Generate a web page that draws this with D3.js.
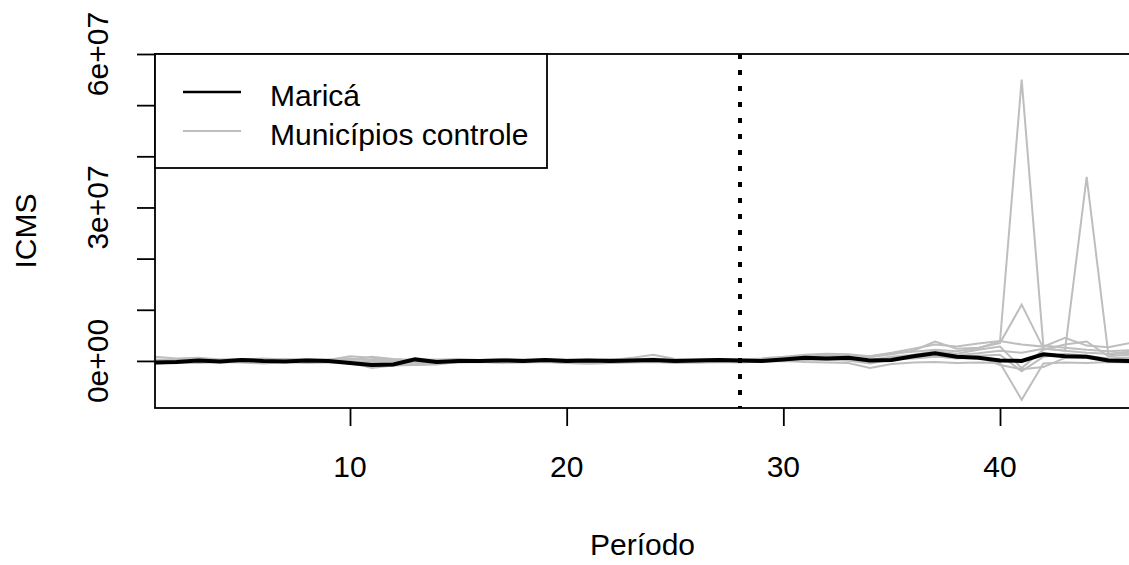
<!DOCTYPE html>
<html>
<head>
<meta charset="utf-8">
<script src="https://cdn.jsdelivr.net/npm/d3@7"></script>
<style>
  body { margin: 0; background: #fff; }
  text { font-family: "Liberation Sans", Arial, sans-serif; fill: #000; }
</style>
</head>
<body>
<div id="chart"></div>
<script>
// values in millions of R$ (ICMS), period 1..46
const periods = d3.range(1, 47);

const marica = [
  -0.3, -0.2, 0.1, -0.1, 0.2, 0.0, -0.1, 0.1, 0.0, -0.4,
  -0.8, -0.7, 0.3, -0.2, 0.0, 0.0, 0.1, 0.0, 0.2, 0.0,
  0.1, 0.0, 0.1, 0.2, 0.0, 0.1, 0.2, 0.1, 0.0, 0.3,
  0.6, 0.5, 0.6, 0.1, 0.2, 0.9, 1.5, 0.8, 0.6, 0.1,
  0.0, 1.3, 0.9, 0.8, 0.1, 0.0];

const control1 = [
  0.3, 0.2, 0.4, 0.1, 0.3, 0.2, 0.4, 0.1, 0.3, 0.5,
  0.2, 0.1, 0.3, 0.2, 0.4, 0.2, 0.3, 0.1, 0.2, 0.3,
  0.2, 0.4, 0.3, 0.5, 0.2, 0.3, 0.4, 0.3, 0.5, 0.8,
  1.2, 1.4, 1.3, 0.9, 1.5, 1.8, 2.2, 1.9, 2.5, 3.8,
  55.0, 3.0, 2.6, 2.2, 1.9, 2.1];

const control2 = [
  -0.5, -0.3, -0.4, -0.2, -0.3, -0.5, -0.2, -0.4, -0.3, -0.2,
  -1.4, -0.9, -0.8, -0.5, -0.3, -0.2, -0.4, -0.3, -0.2, -0.4,
  -0.5, -0.4, -0.3, -0.2, -0.4, -0.3, -0.2, -0.3, -0.1, 0.2,
  0.5, 0.7, 0.4, -0.2, 0.6, 1.0, 1.4, 1.1, 1.5, 2.0,
  1.6, 2.4, 2.0, 36.0, 1.3, 1.5];

const control3 = [
  0.8, 0.5, 0.6, 0.3, 0.2, 0.5, 0.3, 0.4, 0.2, 0.9,
  0.6, 0.1, 0.2, 0.3, 0.1, 0.2, 0.3, 0.2, 0.4, 0.2,
  0.3, 0.1, 0.6, 1.2, 0.4, 0.2, 0.3, 0.1, 0.4, 0.6,
  0.9, 1.1, 1.0, 0.7, 1.3, 2.0, 3.8, 2.4, 2.6, 3.5,
  11.0, 2.5, 2.0, 1.6, 1.4, 1.8];

const control4 = [
  -0.2, -0.1, 0.0, -0.3, -0.1, -0.2, 0.0, -0.1, -0.2, -0.3,
  -0.6, -0.4, -0.8, -0.7, -0.2, -0.1, 0.0, -0.2, -0.1, -0.4,
  -0.5, -0.4, -0.1, 0.0, -0.2, -0.1, 0.0, -0.2, -0.1, 0.0,
  -0.2, -0.3, -0.4, -1.4, -0.6, -0.3, -0.2, -0.4, -0.3, -0.4,
  -7.6, -0.5, -0.3, -0.4, -0.2, -0.3];

const control5 = [
  0.1, 0.2, 0.1, 0.3, 0.4, 0.2, 0.1, 0.3, 0.2, 0.4,
  0.2, 0.3, 0.1, 0.2, 0.3, 0.1, 0.2, 0.3, 0.1, 0.2,
  0.1, 0.3, 0.2, 0.4, 0.1, 0.2, 0.1, 0.2, 0.3, 0.5,
  0.8, 1.0, 0.6, 0.9, 1.6, 2.4, 3.2, 2.8, 3.4, 3.9,
  3.2, 2.8, 4.5, 3.0, 2.7, 3.5];

const control6 = [
  -0.4, -0.2, -0.1, -0.2, 0.0, -0.3, -0.1, -0.2, 0.0, -0.5,
  -1.2, -0.8, -0.6, -0.3, -0.1, 0.0, -0.2, -0.1, 0.0, -0.3,
  -0.2, -0.1, 0.0, -0.2, -0.1, -0.3, -0.2, 0.0, 0.1, 0.3,
  0.2, 0.4, 0.1, -0.5, 0.3, 0.6, 0.9, 0.5, 0.8, -0.8,
  -1.6, -1.2, 0.6, 0.8, 0.4, 0.6];

const control7 = [
  0.0, 0.1, -0.1, 0.0, 0.2, 0.1, -0.1, 0.0, 0.1, 0.2,
  0.8, 0.4, 0.2, 0.1, 0.0, 0.1, -0.1, 0.0, 0.1, 0.0,
  0.2, 0.1, 0.0, 0.1, 0.2, 0.0, 0.1, 0.0, 0.2, 0.4,
  0.7, 0.5, 0.3, 0.2, 0.8, 1.2, 1.9, 1.4, 2.2, 2.8,
  -1.4, 2.2, 3.2, 3.8, 0.9, 1.2];

const control8 = [
  -0.1, 0.0, 0.1, -0.1, 0.0, 0.1, 0.0, -0.2, 0.1, 0.0,
  -0.2, -0.1, -0.3, -0.2, 0.0, 0.1, 0.0, 0.1, 0.0, -0.1,
  0.0, 0.1, 0.0, 0.1, 0.0, 0.1, 0.0, 0.1, 0.0, 0.1,
  0.3, 0.2, 0.1, -0.3, 0.4, 0.5, 0.8, 0.6, 1.0, 1.2,
  -2.0, 0.8, 1.4, 1.0, 0.5, 0.7];

const controls = [control1, control2, control3, control4, control5, control6, control7, control8];

const xTicks = [10, 20, 30, 40];
const yTicks = [0, 10, 20, 30, 40, 50, 60];
const yLabelTicks = [0, 30, 60];
const yLabels = ['0e+00', '3e+07', '6e+07'];
const treatmentPeriod = 28;
const legendLabels = ['Maricá', 'Municípios controle'];

const width = 1129;
const height = 565;
const plot = { left: 155, right: 1130, top: 54, bottom: 408 };
const GREY = '#bebebe';

const svg = d3.select('#chart')
  .append('svg')
  .attr('width', width)
  .attr('height', height);

const x = d3.scaleLinear().domain([1, 46]).range([plot.left, plot.right]);
const y = d3.scaleLinear().domain([-9.2, 60]).range([plot.bottom, plot.top]);

svg.append('clipPath')
  .attr('id', 'clip')
  .append('rect')
  .attr('x', plot.left)
  .attr('y', plot.top)
  .attr('width', plot.right - plot.left)
  .attr('height', plot.bottom - plot.top);

const line = d3.line()
  .x((d, i) => x(periods[i]))
  .y((d) => y(d));

const lines = svg.append('g').attr('clip-path', 'url(#clip)');

lines.selectAll('.control')
  .data(controls)
  .join('path')
  .attr('class', 'control')
  .attr('d', line)
  .attr('fill', 'none')
  .attr('stroke', GREY)
  .attr('stroke-width', 2);

lines.append('path')
  .attr('d', line(marica))
  .attr('fill', 'none')
  .attr('stroke', '#000')
  .attr('stroke-width', 4);

// treatment line
lines.append('line')
  .attr('x1', x(treatmentPeriod))
  .attr('x2', x(treatmentPeriod))
  .attr('y1', plot.top)
  .attr('y2', plot.bottom)
  .attr('stroke', '#000')
  .attr('stroke-width', 4)
  .attr('stroke-dasharray', '5,11');

// axes
svg.append('g')
  .attr('transform', `translate(0,${plot.bottom})`)
  .call(d3.axisBottom(x).tickValues(xTicks).tickSize(18).tickSizeOuter(0).tickFormat(''))
  .call((g) => g.selectAll('line, path').attr('stroke', '#000').attr('stroke-width', 1.8))
  .call((g) => g.select('.domain').remove());

svg.append('g')
  .attr('transform', `translate(${plot.left},0)`)
  .call(d3.axisLeft(y).tickValues(yTicks).tickSize(18).tickSizeOuter(0).tickFormat(''))
  .call((g) => g.selectAll('line, path').attr('stroke', '#000').attr('stroke-width', 1.8))
  .call((g) => g.select('.domain').remove());

svg.append('g')
  .selectAll('text')
  .data(xTicks)
  .join('text')
  .attr('x', (d) => x(d))
  .attr('y', 477)
  .attr('text-anchor', 'middle')
  .attr('font-size', 30)
  .text((d) => d);

svg.append('g')
  .selectAll('text')
  .data(yLabelTicks)
  .join('text')
  .attr('transform', (d) => `translate(108,${y(d)}) rotate(-90)`)
  .attr('text-anchor', 'middle')
  .attr('font-size', 30)
  .text((d, i) => yLabels[i]);

// box
svg.append('rect')
  .attr('x', plot.left)
  .attr('y', plot.top)
  .attr('width', plot.right - plot.left)
  .attr('height', plot.bottom - plot.top)
  .attr('fill', 'none')
  .attr('stroke', '#000')
  .attr('stroke-width', 1.8);

// axis titles
svg.append('text')
  .attr('x', (plot.left + plot.right) / 2)
  .attr('y', 555)
  .attr('text-anchor', 'middle')
  .attr('font-size', 30)
  .text('Período');

svg.append('text')
  .attr('transform', `translate(36,${(plot.top + plot.bottom) / 2}) rotate(-90)`)
  .attr('text-anchor', 'middle')
  .attr('font-size', 30)
  .text('ICMS');

// legend
const legend = svg.append('g');
legend.append('rect')
  .attr('x', plot.left)
  .attr('y', plot.top)
  .attr('width', 392)
  .attr('height', 114)
  .attr('fill', '#fff')
  .attr('stroke', '#000')
  .attr('stroke-width', 1.8);

legend.selectAll('.item')
  .data(legendLabels)
  .join('g')
  .attr('class', 'item')
  .attr('transform', (d, i) => `translate(0,${92 + i * 39})`)
  .call((g) => g.append('line')
    .attr('x1', 183)
    .attr('x2', 241)
    .attr('stroke', (d, i) => (i === 0 ? '#000' : GREY))
    .attr('stroke-width', (d, i) => (i === 0 ? 2.5 : 2)))
  .call((g) => g.append('text')
    .attr('x', 270)
    .attr('y', 14)
    .attr('font-size', 30)
    .text((d) => d));
</script>
</body>
</html>
